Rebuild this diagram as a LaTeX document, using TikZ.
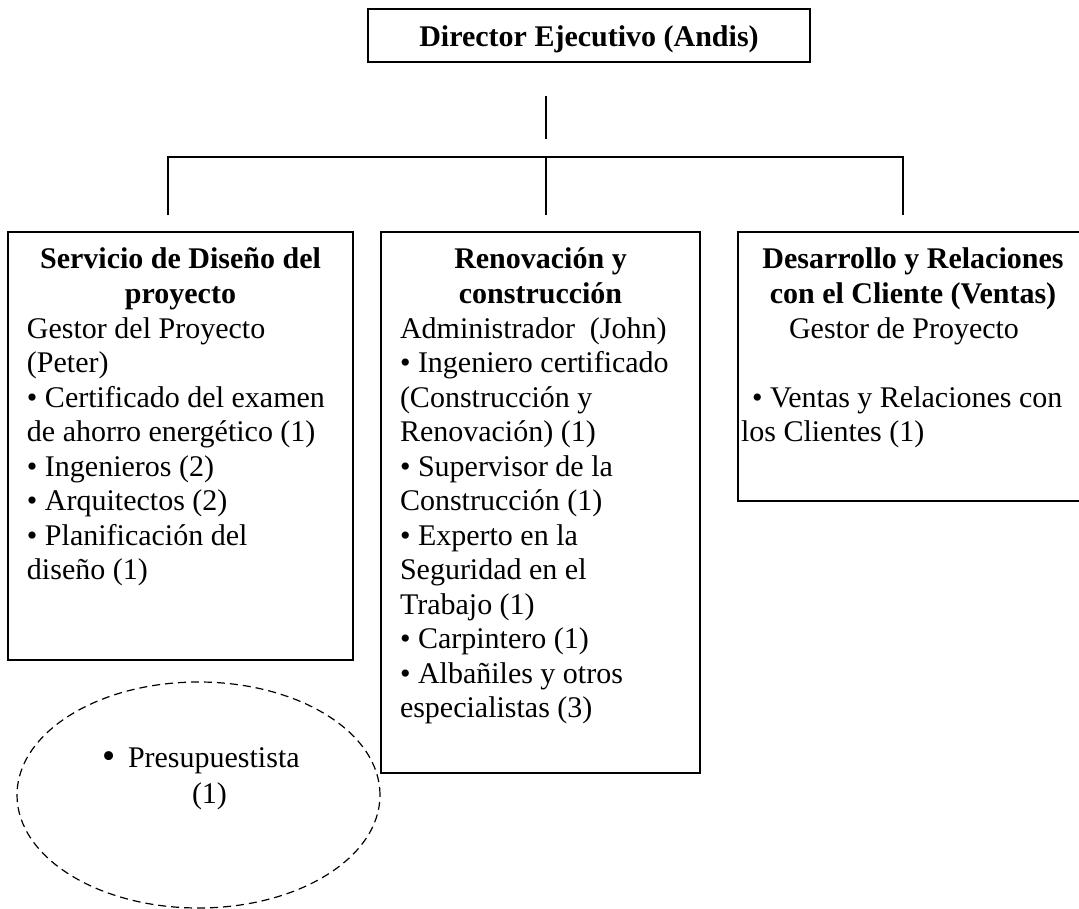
\documentclass[tikz,border=0pt]{standalone}
\usepackage{fontspec}
\setmainfont{Liberation Serif}
\usetikzlibrary{shapes.geometric}
\begin{document}
\begin{tikzpicture}[x=1pt,y=-1pt,
  box/.style={draw, line width=1.3pt, inner sep=0pt, outer sep=0pt, anchor=north west},
  conn/.style={line width=1.3pt},
  txt/.style={inner sep=0pt, outer sep=0pt, font=\fontsize{30}{34.5}\selectfont},
  head/.style={inner sep=0pt, outer sep=0pt, font=\fontsize{30}{34.5}\selectfont\bfseries, anchor=base},
  ctr/.style={txt, anchor=base},
  lft/.style={txt, anchor=base west},
  dashell/.style={draw, ellipse, line width=1.2pt, dash pattern=on 8pt off 5pt, inner sep=0pt, outer sep=0pt}
]
\useasboundingbox (0,0) rectangle (1079,909);
\clip (0,0) rectangle (1079,909);

% top box
\node[box, minimum width=442pt, minimum height=53pt] (topbox) at (368,9) {};
\node[head] (dir) at (589,47) {Director Ejecutivo (Andis)};

% connectors
\coordinate (vt) at (546,96);
\coordinate (vb) at (546,139);
\coordinate (hl) at (168,157);
\coordinate (hm) at (546,157);
\coordinate (hr) at (903,157);
\coordinate (dl) at (168,215);
\coordinate (dm) at (546,215);
\coordinate (dr) at (903,215);
\draw[conn] (vt) -- (vb);
\draw[conn] (dl) -- (hl) -- (hr) -- (dr);
\draw[conn] (hm) -- (dm);

% boxes
\node[box, minimum width=345pt, minimum height=428pt] (lbox) at (8,232) {};
\node[box, minimum width=319pt, minimum height=541pt] (mbox) at (381,232) {};
\node[box, minimum width=350pt, minimum height=269pt] (rbox) at (738,232) {};

% left box text
\node[head] (l1) at (180.5,269) {Servicio de Diseño del};
\node[head] (l2) at (180.5,303.5) {proyecto};
\node[lft] (l3) at (27,338) {Gestor del Proyecto};
\node[lft] (l4) at (27,372.5) {(Peter)};
\node[lft] (l5) at (27,407) {• Certificado del examen};
\node[lft] (l6) at (27,441.5) {de ahorro energético (1)};
\node[lft] (l7) at (27,476) {• Ingenieros (2)};
\node[lft] (l8) at (27,510.5) {• Arquitectos (2)};
\node[lft] (l9) at (27,545) {• Planificación del};
\node[lft] (l10) at (27,579.5) {diseño (1)};

% middle box text
\node[head] (m1) at (540.5,269) {Renovación y};
\node[head] (m2) at (540.5,303.5) {construcción};
\node[lft] (m3) at (400,338) {Administrador\ \ (John)};
\node[lft] (m4) at (400,372.5) {• Ingeniero certificado};
\node[lft] (m5) at (400,407) {(Construcción y};
\node[lft] (m6) at (400,441.5) {Renovación) (1)};
\node[lft] (m7) at (400,476) {• Supervisor de la};
\node[lft] (m8) at (400,510.5) {Construcción (1)};
\node[lft] (m9) at (400,545) {• Experto en la};
\node[lft] (m10) at (400,579.5) {Seguridad en el};
\node[lft] (m11) at (400,614) {Trabajo (1)};
\node[lft] (m12) at (400,648.5) {• Carpintero (1)};
\node[lft] (m13) at (400,683) {• Albañiles y otros};
\node[lft] (m14) at (400,717.5) {especialistas (3)};

% right box text
\node[head] (r1) at (913,269) {Desarrollo y Relaciones};
\node[head] (r2) at (913,303.5) {con el Cliente (Ventas)};
\node[ctr] (r3) at (904,338) {Gestor de Proyecto};
\node[lft] (r5) at (752,407) {• Ventas y Relaciones con};
\node[lft] (r6) at (741,441.5) {los Clientes (1)};

% dashed ellipse
\node[dashell, minimum width=363pt, minimum height=226pt] (ell) at (198.5,795) {};
\node[lft] (pres1) at (102,767) {\makebox[26pt][l]{\raisebox{-1pt}{\scalebox{1.25}{•}}}Presupuestista};
\node[lft] (pres2) at (192,803) {(1)};
\end{tikzpicture}
\end{document}
